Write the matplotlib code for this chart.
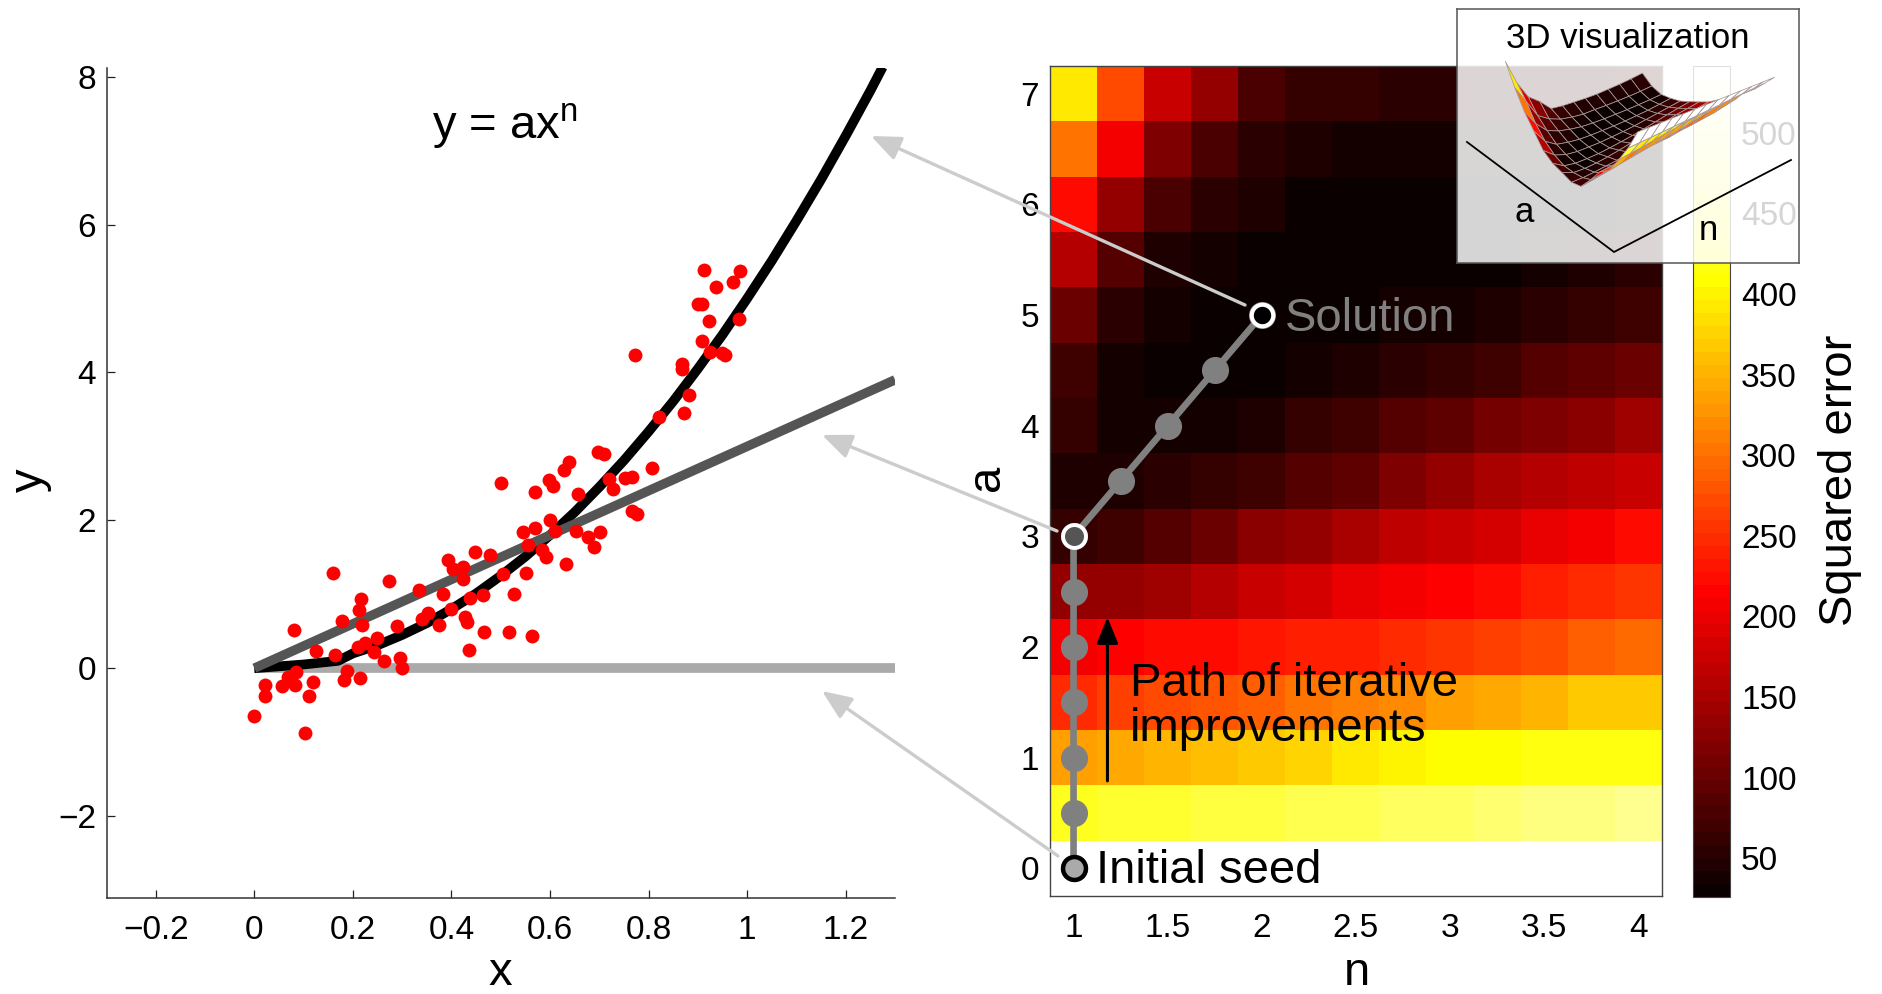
import numpy as np
import matplotlib
matplotlib.use('Agg')
import matplotlib.pyplot as plt
from matplotlib.patches import FancyArrowPatch
from matplotlib.lines import Line2D

plt.rcParams['font.family'] = 'Liberation Sans'
plt.rcParams['mathtext.fontset'] = 'custom'
plt.rcParams['mathtext.rm'] = 'Liberation Sans'
plt.rcParams['mathtext.default'] = 'regular'

# scatter samples
pts_x = [.913,.986,.971,.936,.900,.909,.922,.983,.908,.925,.949,.956,.772,.868,.867,.882,.871,.822,.698,.710,
         .639,.628,.806,.719,.752,.766,.728,.598,.606,.500,.570,.656,.767,.776,.600,.569,.545,.611,.653,.701,
         .678,.690,.556,.583,.592,.633,.448,.479,.393,.403,.424,.423,.504,.552,.160,.273,.334,.382,.527,.463,
         .437,.217,.212,.399,.352,.340,.427,.432,.177,.219,.374,.290,.080,.465,.516,.564,.248,.225,.211,.242,
         .125,.164,.435,.264,.296,.300,.084,.187,.068,.181,.214,.118,.021,.056,.082,.022,.111,.000,.103]
pts_y = [5.39,5.37,5.22,5.15,4.92,4.92,4.69,4.72,4.42,4.27,4.26,4.24,4.24,4.11,4.05,3.69,3.45,3.40,2.93,2.90,
         2.79,2.68,2.71,2.56,2.57,2.58,2.42,2.55,2.46,2.50,2.38,2.36,2.13,2.08,2.01,1.90,1.84,1.85,1.85,1.84,
         1.77,1.64,1.67,1.60,1.50,1.41,1.57,1.53,1.46,1.34,1.37,1.21,1.28,1.29,1.29,1.18,1.06,1.00,1.00,.99,
         .95,.94,.79,.80,.75,.66,.69,.62,.64,.59,.58,.57,.52,.49,.49,.43,.41,.34,.28,.22,
         .23,.18,.24,.10,.14,.00,-.05,-.04,-.12,-.16,-.13,-.19,-.23,-.24,-.23,-.37,-.37,-.65,-.88]

# the three fits
seed_x = [0, 1.3]
seed_y = [0, 0]
mid_x = [0, 1.3]
mid_y = [0, 3.9]
sol_x = [0, .1, .17, .2, .25, .3, .35, .4, .45, .5, .55, .6, .65, .7, .75, .8, .85, .9, .95, 1.0, 1.05, 1.1, 1.15, 1.2, 1.25, 1.275]
sol_y = [0, .05, .1, .2, .31, .45, .61, .8, 1.01, 1.25, 1.51, 1.8, 2.11, 2.45, 2.81, 3.2, 3.61, 4.05, 4.51, 5.0, 5.51, 6.05, 6.61, 7.2, 7.81, 8.13]

# error surface, a goes from 0 to 7, n from 1 to 4
n_vals = [1, 1.25, 1.5, 1.75, 2, 2.25, 2.5, 2.75, 3, 3.25, 3.5, 3.75, 4]
a_vals = [0, .5, 1, 1.5, 2, 2.5, 3, 3.5, 4, 4.5, 5, 5.5, 6, 6.5, 7]
err = [
    [541,541,541,541,541,541,541,541,541,541,541,541,541],
    [428,432,436,440,444,448,452,456,460,466,470,474,478],
    [336,344,352,362,372,380,390,398,406,410,414,416,416],
    [248,260,270,280,290,300,310,322,334,345,356,366,372],
    [206,212,220,226,232,236,240,250,256,264,272,285,298],
    [132,138,146,160,172,186,196,208,218,226,236,246,258],
    [65,74,84,99,123,138,148,165,177,187,196,206,220],
    [50,50,55,62,68,85,96,120,136,148,155,165,175],
    [62,40,38,42,50,60,72,84,96,108,122,130,140],
    [72,38,28,28,30,36,44,52,62,74,86,96,106],
    [100,55,35,28,28,28,32,36,42,50,58,66,74],
    [160,87,50,38,30,28,28,28,30,34,38,45,52],
    [220,138,82,58,44,34,30,28,28,28,30,32,36],
    [300,210,120,82,58,46,38,38,36,36,36,38,42],
    [394,268,177,132,75,66,62,58,56,58,60,64,70],
]

# path of the fit
path_n = [1, 1, 1, 1, 1, 1, 1, 1.25, 1.5, 1.75, 2]
path_a = [0, .5, 1, 1.5, 2, 2.5, 3, 3.5, 4, 4.5, 5]

W, H = 1883, 994
vmin, vmax = 26, 541.4

def rect(l, t, r, b):
    return [l/W, 1-b/H, (r-l)/W, (b-t)/H]

def fx(x):
    return x/W

def fy(y):
    return 1-y/H

fig = plt.figure(figsize=(W/100, H/100), dpi=100)

# left panel
ax = fig.add_axes(rect(107, 68, 895, 898), zorder=1)
ax.plot(seed_x, seed_y, color='#aaaaaa', lw=7, solid_capstyle='butt')
ax.plot(sol_x, sol_y, color='k', lw=7, solid_capstyle='butt')
ax.plot(mid_x, mid_y, color='#555555', lw=6.8, solid_capstyle='butt')
ax.scatter(pts_x, pts_y, s=100, color='#ff0000', linewidths=0, zorder=5)
ax.set_xlim(-.299, 1.30)
ax.set_ylim(-3.108, 8.117)
ax.set_xticks([-.2, 0, .2, .4, .6, .8, 1, 1.2])
ax.set_xticklabels(['\u22120.2', '0', '0.2', '0.4', '0.6', '0.8', '1', '1.2'])
ax.set_yticks([-2, 0, 2, 4, 6, 8])
ax.set_yticklabels(['\u22122', '0', '2', '4', '6', '8'])
ax.tick_params(direction='in', length=5.8, width=.9, labelsize=24, color='#222222')
ax.tick_params(axis='x', pad=12)
ax.tick_params(axis='y', pad=8)
ax.spines['top'].set_visible(False)
ax.spines['right'].set_visible(False)
for s in ['left', 'bottom']:
    ax.spines[s].set_linewidth(1.1)
    ax.spines[s].set_color('#333333')
fig.text(fx(500), fy(973), 'x', fontsize=34, ha='center', va='center')
fig.text(fx(30), fy(480), 'y', fontsize=34, ha='center', va='center', rotation=90)
fig.text(fx(505), fy(126), 'y = ax$^{n}$', fontsize=34, ha='center', va='center', zorder=6)

# heat map
hot = plt.get_cmap('hot').resampled(64)
hm = fig.add_axes(rect(1050, 66, 1662, 896), zorder=2)
im = hm.imshow(err, origin='lower', extent=[.875, 4.125, -.25, 7.25], aspect='auto',
               cmap=hot, vmin=vmin, vmax=vmax, interpolation='nearest')
hm.plot(path_n, path_a, color='#808080', lw=4.8, marker='o', ms=19.5, mew=0, solid_capstyle='butt')
hm.plot(path_n[0], path_a[0], marker='o', ms=16.5, mfc='#aaaaaa', mec='k', mew=3.2)
hm.plot(path_n[6], path_a[6], marker='o', ms=16.5, mfc='#555555', mec='w', mew=2.8)
hm.plot(path_n[-1], path_a[-1], marker='o', ms=15.5, mfc='k', mec='w', mew=3)
hm.annotate('', xy=(1.18, 2.27), xytext=(1.18, .79),
            arrowprops=dict(arrowstyle='-|>,head_length=1.6,head_width=.65', mutation_scale=10,
                            color='k', lw=2.2, shrinkA=0, shrinkB=0))
hm.set_xticks([1, 1.5, 2, 2.5, 3, 3.5, 4])
hm.set_xticklabels(['1', '1.5', '2', '2.5', '3', '3.5', '4'])
hm.set_yticks(range(8))
hm.tick_params(length=0, labelsize=24)
hm.tick_params(axis='x', pad=12)
hm.tick_params(axis='y', pad=8)
for s in hm.spines.values():
    s.set_linewidth(1)
    s.set_color('#444444')
fig.text(fx(1357), fy(973), 'n', fontsize=34, ha='center', va='center', zorder=6)
fig.text(fx(987), fy(478), 'a', fontsize=34, ha='center', va='center', rotation=90, zorder=6)
fig.text(fx(1285), fy(319), 'Solution', fontsize=34, color='#808080', va='center', zorder=6)
fig.text(fx(1096), fy(871), 'Initial seed', fontsize=34, va='center', zorder=6)
fig.text(fx(1130), fy(684), 'Path of iterative', fontsize=34, va='center', zorder=6)
fig.text(fx(1130), fy(729), 'improvements', fontsize=34, va='center', zorder=6)

# colour bar
cax = fig.add_axes(rect(1693, 66, 1730, 897), zorder=2)
cb = fig.colorbar(im, cax=cax)
cb.set_ticks(list(range(50, 501, 50)))
cb.ax.tick_params(length=0, labelsize=24, pad=8)
cb.outline.set_linewidth(.8)
cb.outline.set_edgecolor('#444444')
fig.text(fx(1840), fy(480), 'Squared error', fontsize=34, rotation=90, ha='center', va='center')

# grey arrows from the map to the curves
for tail, tip in [((1245, 305), (871, 136)), ((1057, 531), (822, 435)), ((1058, 856), (822, 691))]:
    fig.add_artist(FancyArrowPatch((fx(tail[0]), fy(tail[1])), (fx(tip[0]), fy(tip[1])),
                                   transform=fig.transFigure, color='#cccccc', lw=2.4, shrinkA=0, shrinkB=0,
                                   arrowstyle='-|>,head_length=1.8,head_width=.75', mutation_scale=10,
                                   zorder=3))

# inset with the 3D view
ins = fig.add_axes(rect(1457, 9, 1799, 263), zorder=5)
ins.patch.set_facecolor('white')
ins.patch.set_alpha(.84)
ins.set_xticks([])
ins.set_yticks([])
for s in ins.spines.values():
    s.set_linewidth(1.1)
    s.set_color('#555555')
fig.add_artist(Line2D([fx(1467), fx(1614), fx(1791)], [fy(142), fy(252), fy(160)], color='k', lw=1.3, zorder=7))
fig.text(fx(1628), fy(38), '3D visualization', fontsize=25, ha='center', va='center', zorder=7)
fig.text(fx(1524), fy(212), 'a', fontsize=25, ha='center', va='center', zorder=7)
fig.text(fx(1708), fy(230), 'n', fontsize=25, ha='center', va='center', zorder=7)

S = 300
cx, cy = 1640, 107
ax3 = fig.add_axes(rect(cx-.5135*S, cy+.5135*S-S, cx-.5135*S+S, cy+.5135*S), projection='3d',
                   proj_type='ortho', zorder=6)
ax3.patch.set_visible(False)
ax3.set_axis_off()
N, A = np.meshgrid(n_vals, a_vals)
Z = np.array(err, dtype=float)
# faces take the mean of their corners, the edge rows the brightest corner so white and yellow stay
corners = np.array([Z, np.roll(Z, -1, 0), np.roll(Z, -1, 1), np.roll(np.roll(Z, -1, 0), -1, 1)])
face = corners.mean(axis=0)
face[0, :] = corners.max(axis=0)[0, :]
face[:, 0] = corners.max(axis=0)[:, 0]
ax3.plot_surface(N, A, Z, facecolors=hot((face-vmin)/(vmax-vmin)), rstride=1, cstride=1,
                 edgecolor='#a89898', linewidth=.55, shade=False, antialiased=True)
ax3.set_xlim(1, 4)
ax3.set_ylim(0, 7)
ax3.set_zlim(vmin, vmax)
ax3.set_box_aspect((172.8, 230.4, 129.5))
ax3.view_init(elev=33.5, azim=-125.9)

fig.savefig('out.png', dpi=100)
